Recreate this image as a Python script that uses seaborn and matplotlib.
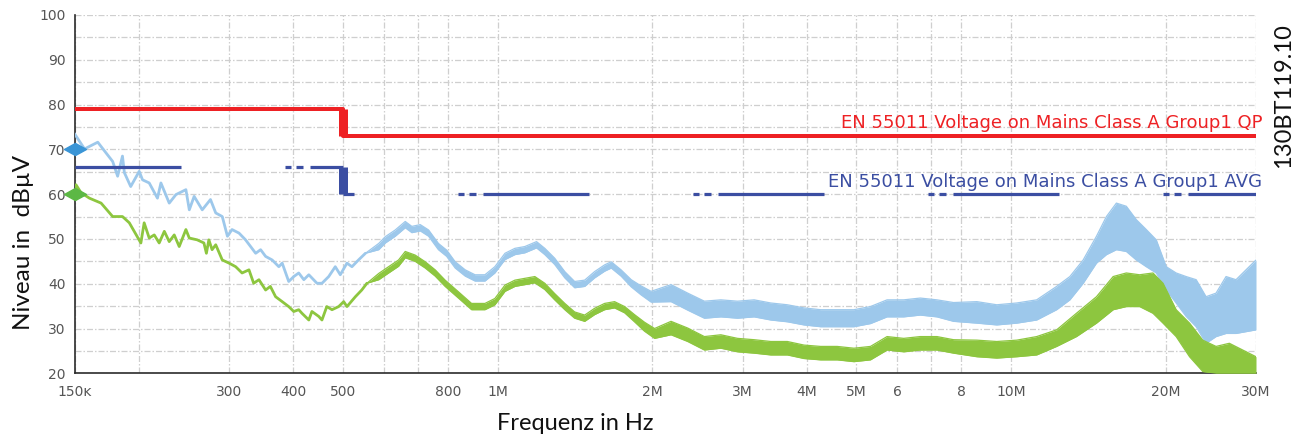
import numpy as np
import pandas as pd
import matplotlib
matplotlib.use("Agg")
import matplotlib.pyplot as plt
from matplotlib.ticker import FixedLocator, FixedFormatter, NullLocator
import seaborn as sns

# ---------------------------------------------------------------- data
# Peak detector trace, low-frequency part (kHz, dBµV)
peak_f_khz = [150, 156.9, 166.5, 172.8, 178, 182, 186, 187.6, 193, 200.5, 203.5, 209.7,
              217.6, 221, 229.4, 236.4, 247.2, 251, 256.5, 266, 276, 282.6, 291, 297.8,
              304, 313.7, 323, 338, 345.6, 353.4, 364, 375, 380.7, 392, 401, 410, 419.5,
              429, 445, 455, 469, 483, 494, 509, 520.5, 536, 553]
peak_db = [73.5, 70.1, 71.6, 69.2, 67.3, 64.0, 68.5, 64.8, 61.7, 65.1, 63.2, 62.5,
           59.1, 62.5, 58.0, 59.9, 61.0, 56.5, 59.5, 56.5, 58.8, 55.8, 55.0, 50.6,
           52.1, 51.3, 49.8, 46.8, 47.6, 46.1, 45.3, 43.8, 44.6, 40.5, 41.6, 42.4, 40.9,
           42.0, 40.1, 40.1, 41.6, 43.8, 42.0, 44.6, 43.8, 45.3, 46.8]

# Peak detector trace, dense part: lower / upper envelope of the sweep
peak_band_f_khz = [553, 587, 604.5, 632, 661, 681, 707, 734, 767, 796, 827, 865, 904, 945,
                   988, 1034, 1081, 1130, 1191, 1236, 1292, 1352, 1413, 1478, 1545, 1616,
                   1665, 1740, 1821, 1904, 1991, 2177, 2346, 2528, 2722, 2933, 3160, 3405,
                   3668, 3952, 4257, 4587, 4943, 5324, 5736, 6181, 6657, 7174, 7728, 8580,
                   9381, 10260, 11220, 12270, 13020, 13820, 14670, 15340, 16040, 16770,
                   17540, 18340, 19180, 20060, 20970, 21930, 22940, 23980, 25080, 26230,
                   27430, 30000]
peak_band_lo = [46.8, 47.6, 49.1, 50.6, 52.5, 51.4, 51.8, 50.6, 47.6, 46.1, 43.5, 41.7, 40.6,
                40.6, 42.4, 45.4, 46.5, 46.9, 48.0, 46.5, 44.3, 41.3, 39.1, 39.4, 41.3, 42.8,
                43.5, 41.7, 39.3, 37.5, 35.9, 36.0, 34.1, 32.3, 32.6, 32.3, 32.6, 31.9,
                31.5, 30.8, 30.4, 30.4, 30.4, 31.1, 32.6, 32.6, 33.0, 32.6, 31.6, 31.2,
                30.8, 31.2, 31.9, 34.2, 36.4, 40.1, 44.6, 46.5, 47.6, 47.2,
                45.3, 43.8, 42.4, 38.6, 35.7, 32.7, 30.4, 26.7, 28.2, 28.9,
                28.9, 29.7]
peak_band_hi = [46.8, 49.0, 50.5, 52.0, 53.9, 52.8, 53.2, 52.0, 49.0, 47.5, 44.9, 43.1, 42.0,
                42.0, 43.8, 46.8, 47.9, 48.3, 49.4, 47.9, 45.7, 42.7, 40.5, 40.8, 42.7, 44.2,
                44.9, 43.1, 40.9, 39.5, 38.3, 39.8, 37.9, 36.1, 36.4, 36.1, 36.4, 35.7,
                35.3, 34.6, 34.2, 34.2, 34.2, 34.9, 36.4, 36.4, 36.8, 36.4, 35.8, 36.0,
                35.3, 35.7, 36.4, 39.4, 41.6, 45.3, 50.6, 55.0, 58.0, 57.3,
                54.3, 52.1, 49.8, 43.8, 42.4, 41.6, 40.9, 37.1, 37.9, 41.6,
                40.9, 45.3]

# Average detector trace, low-frequency part (kHz, dBµV)
avg_f_khz = [150, 151, 154.5, 160.4, 169, 178, 186, 191.8, 202, 205, 209.7, 214.5, 219.3,
             224.4, 229.4, 234.6, 239.9, 247.2, 251, 260, 268, 271, 274, 278, 282.6, 291,
             300, 309, 318, 328, 335, 343, 353.4, 361, 369.6, 380.7, 392, 401, 410, 416,
             429, 435, 448.5, 455, 465, 476, 490.5, 501.6, 509, 528.6, 544, 556.6]
avg_db = [60.5, 62.1, 60.3, 59.1, 58.0, 55.0, 55.0, 53.6, 49.1, 53.6, 50.2, 50.9, 49.1,
          51.7, 49.4, 50.9, 48.3, 52.1, 50.2, 49.8, 49.1, 46.8, 49.8, 47.6, 48.7, 45.3,
          44.6, 43.8, 42.4, 43.1, 40.1, 40.9, 38.6, 39.4, 37.1, 36.0, 34.9, 33.8, 34.2, 33.4,
          31.9, 33.8, 32.7, 31.9, 34.9, 34.2, 34.9, 36.0, 34.9, 37.1, 38.6, 40.1]

# Average detector trace, dense part
avg_band_f_khz = [556.6, 587, 613.5, 641.5, 661, 691, 723, 756, 790.5, 839, 890, 945, 988,
                  1034, 1081, 1130, 1182, 1236, 1292, 1352, 1413, 1478, 1545, 1616, 1690,
                  1768, 1848, 1933, 2022, 2177, 2346, 2528, 2722, 2933, 3160, 3405, 3668,
                  3952, 4257, 4587, 4943, 5324, 5736, 6181, 6657, 7174, 7728, 8580, 9381,
                  10260, 11220, 12270, 13410, 14670, 15810, 16770, 17800, 18900, 19770,
                  20970, 22270, 23630, 25080, 26620, 28260, 30000]
avg_band_lo = [40.1, 40.9, 42.4, 43.9, 45.8, 45.0, 43.5, 41.7, 39.4, 36.8, 34.2, 34.2, 35.3,
               38.3, 39.4, 39.8, 40.2, 38.7, 36.4, 34.2, 32.3, 31.6, 33.1, 34.2, 34.6,
               33.5, 31.5, 29.4, 27.8, 28.6, 27.1, 25.2, 25.6, 24.8, 24.5, 24.1, 24.1,
               23.3, 23.0, 23.0, 22.6, 23.0, 25.2, 24.8, 25.2, 25.2, 24.5, 23.7, 23.4,
               23.7, 24.1, 26.0, 28.2, 31.2, 34.2, 34.9, 34.9, 33.4, 31.2,
               28.2, 23.7, 20.4, 20.0, 20.0, 20.0, 20.0]
avg_band_hi = [40.1, 42.3, 43.8, 45.3, 47.2, 46.4, 44.9, 43.1, 40.8, 38.2, 35.6, 35.6, 36.7,
               39.7, 40.8, 41.2, 41.6, 40.1, 37.8, 35.6, 33.7, 33.0, 34.5, 35.6, 36.0,
               34.9, 33.1, 31.4, 30.0, 31.6, 30.1, 28.2, 28.6, 27.8, 27.5, 27.1, 27.1,
               26.3, 26.0, 26.0, 25.6, 26.0, 28.2, 27.8, 28.2, 28.2, 27.5, 27.4, 27.1,
               27.4, 28.2, 29.7, 33.4, 37.1, 41.6, 42.4, 42.0, 42.4, 40.1,
               34.2, 31.2, 27.4, 26.0, 26.7, 25.2, 23.7]

# EN 55011 class A group 1 limits (kHz, dBµV)
limit_f_khz = [150, 500, 30000]
qp_limit = [79, 73]
avg_limit = [66, 60]

# Marker readings at the start frequency
marker_f_khz = 150
peak_marker = 70
avg_marker = 60

# Axis ticks
x_ticks_khz = [150, 200, 300, 400, 500, 600, 700, 800, 1000, 2000, 3000, 4000, 5000,
               6000, 7000, 8000, 10000, 20000, 30000]
x_tick_labels = ["150ᴋ", "", "300", "400", "500", "", "", "800", "1M", "2M", "3M", "4M",
                 "5M", "6", "", "8", "10M", "20M", "30M"]
y_ticks = list(range(20, 101, 5))

qp_label = "EN 55011 Voltage on Mains Class A Group1 QP"
avg_label = "EN 55011 Voltage on Mains Class A Group1 AVG"

# ---------------------------------------------------------------- style
PEAK_C = "#9dc8eb"
AVG_C = "#8dc63f"
QP_C = "#ee2124"
AVG_LIM_C = "#3b4ea2"
PEAK_MK_C = "#3a95d6"
AVG_MK_C = "#5cb845"

sns.set_style("white")
plt.rcParams["font.family"] = ["DejaVu Sans"]
plt.rcParams["lines.scale_dashes"] = False

PX = 72 / 100  # points per pixel at dpi 100

fig = plt.figure(figsize=(13.10, 4.41), dpi=100)
ax = fig.add_axes([74.5 / 1310, (441 - 373.3) / 441, (1256 - 74.5) / 1310, (373.3 - 15) / 441])
ax.set_xscale("log")
ax.set_xlim(limit_f_khz[0] * 1e3, limit_f_khz[-1] * 1e3)
ax.set_ylim(20, 100)

# grid and axes
ax.xaxis.set_major_locator(FixedLocator([f * 1e3 for f in x_ticks_khz]))
ax.xaxis.set_major_formatter(FixedFormatter(x_tick_labels))
ax.xaxis.set_minor_locator(NullLocator())
ax.yaxis.set_major_locator(FixedLocator(y_ticks))
ax.yaxis.set_major_formatter(FixedFormatter([str(v) if v % 10 == 0 else "" for v in y_ticks]))
ax.grid(True, color="#cfcfcf", lw=0.9, linestyle=(0, (6 * PX, 2 * PX, 1.5 * PX, 2 * PX)))
ax.set_axisbelow(True)
for side in ("top", "right"):
    ax.spines[side].set_visible(False)
for side in ("left", "bottom"):
    ax.spines[side].set_color("#2b2b2b")
    ax.spines[side].set_linewidth(1.2)
ax.tick_params(axis="both", direction="inout", length=7, width=1.1, color="#2b2b2b",
               labelcolor="#555555", labelsize=10)
ax.tick_params(axis="x", pad=5)
ax.tick_params(axis="y", pad=3)

# peak trace
peak_line = pd.DataFrame({"f": np.array(peak_f_khz) * 1e3, "dB": peak_db})
sns.lineplot(data=peak_line, x="f", y="dB", ax=ax, color=PEAK_C, lw=2.0,
             estimator=None, sort=False, zorder=3)
pb = pd.DataFrame({"f": np.array(peak_band_f_khz) * 1e3, "lo": peak_band_lo, "hi": peak_band_hi})
ax.fill_between(pb["f"], pb["lo"], pb["hi"], color=PEAK_C, lw=0, zorder=3)
sns.lineplot(data=pb, x="f", y="lo", ax=ax, color=PEAK_C, lw=0.9, estimator=None, sort=False, zorder=3)
sns.lineplot(data=pb, x="f", y="hi", ax=ax, color=PEAK_C, lw=0.9, estimator=None, sort=False, zorder=3)

# average trace
avg_line = pd.DataFrame({"f": np.array(avg_f_khz) * 1e3, "dB": avg_db})
sns.lineplot(data=avg_line, x="f", y="dB", ax=ax, color=AVG_C, lw=2.0,
             estimator=None, sort=False, zorder=4)
ab = pd.DataFrame({"f": np.array(avg_band_f_khz) * 1e3, "lo": avg_band_lo, "hi": avg_band_hi})
ax.fill_between(ab["f"], ab["lo"], ab["hi"], color=AVG_C, lw=0, zorder=4)
sns.lineplot(data=ab, x="f", y="lo", ax=ax, color=AVG_C, lw=0.9, estimator=None, sort=False, zorder=4)
sns.lineplot(data=ab, x="f", y="hi", ax=ax, color=AVG_C, lw=0.9, estimator=None, sort=False, zorder=4)

# quasi-peak limit (solid step)
lim_f = np.array(limit_f_khz) * 1e3
sns.lineplot(x=lim_f, y=[qp_limit[0], qp_limit[1], qp_limit[1]], ax=ax, color=QP_C,
             lw=4 * PX, drawstyle="steps-post", estimator=None, sort=False, zorder=5)
ax.plot([lim_f[1], lim_f[1]], qp_limit, color=QP_C, lw=9 * PX, solid_capstyle="butt", zorder=5)

# average limit (long dash, two short dots)
pattern = tuple(v * PX for v in (106, 104, 6, 5, 7, 7))
sns.lineplot(x=lim_f[:2], y=[avg_limit[0]] * 2, ax=ax, color=AVG_LIM_C, lw=3.2 * PX,
             estimator=None, sort=False, zorder=5, linestyle=(0, pattern))
sns.lineplot(x=lim_f[1:], y=[avg_limit[1]] * 2, ax=ax, color=AVG_LIM_C, lw=3.2 * PX,
             estimator=None, sort=False, zorder=5, linestyle=(95 * PX, pattern))
ax.plot([lim_f[1], lim_f[1]], avg_limit, color=AVG_LIM_C, lw=9 * PX, solid_capstyle="butt", zorder=5)

# limit captions
ax.annotate(qp_label, xy=(lim_f[-1], qp_limit[1]), xytext=(4.5, 2.5), textcoords="offset points",
            ha="right", va="bottom", color=QP_C, fontsize=13, annotation_clip=False, zorder=6)
ax.annotate(avg_label, xy=(lim_f[-1], avg_limit[1]), xytext=(4.5, 2.5), textcoords="offset points",
            ha="right", va="bottom", color=AVG_LIM_C, fontsize=13, annotation_clip=False, zorder=6)

# start-frequency markers (flattened diamonds)
diamond = [(-1, 0), (0, 0.55), (1, 0), (0, -0.55), (-1, 0)]
ax.plot([marker_f_khz * 1e3], [peak_marker], marker=diamond, ms=22 * PX, color=PEAK_MK_C,
        lw=0, clip_on=False, zorder=7)
ax.plot([marker_f_khz * 1e3], [avg_marker], marker=diamond, ms=22 * PX, color=AVG_MK_C,
        lw=0, clip_on=False, zorder=7)

ax.set_xlabel("")
ax.set_ylabel("")
fig.text(24 / 1310, 1 - 242 / 441, "Niveau in  dBµV", rotation=90, ha="center", va="center",
         fontsize=17.5, family=["Lato", "DejaVu Sans"], color="#111111")
fig.text(575 / 1310, 1 - 423 / 441, "Frequenz in Hz", ha="center", va="center",
         fontsize=17, family=["Lato", "DejaVu Sans"], color="#111111")
fig.text(1284 / 1310, 1 - 96 / 441, "130BT119.10", rotation=90, ha="center", va="center",
         fontsize=17, family=["Lato", "DejaVu Sans"], color="#111111")

fig.savefig("out.png", dpi=100)
